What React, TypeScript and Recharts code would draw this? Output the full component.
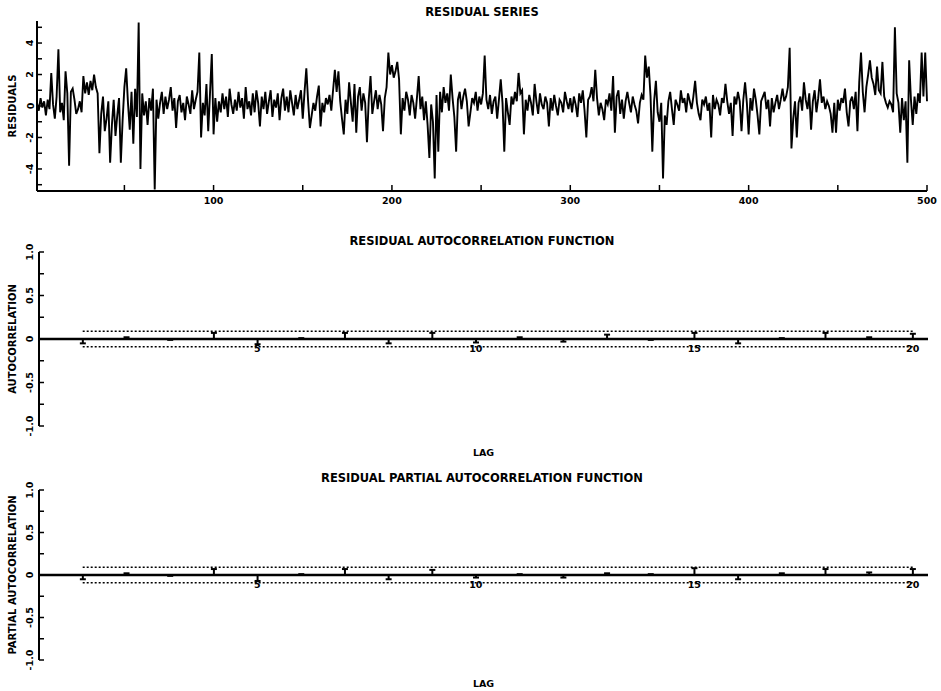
import { ComposedChart, Line, Bar, XAxis, YAxis, ReferenceLine, ReferenceDot } from 'recharts';

// residual series, observations 1..500
const residuals: number[] = [
  0.2, -0.3, 0.5, -0.1, 0.3, -0.6, 0.4, -0.2, 2.1, 0.1, -0.8, 0.6, 3.6, -0.4, 0.2, -0.9, 2.2, 0.8, -3.8, 0.9,
  1.1, 0.4, -0.5, -0.2, 0.3, -0.4, 1.9, 0.8, 1.5, 0.7, 1.6, 1.0, 2.0, 1.2, 0.8, -3.0, -0.5, 0.6, -1.6, -0.8,
  0.3, -3.6, -1.2, 0.4, -1.9, -0.6, 0.5, -3.6, -0.9, 1.2, 2.4, 0.2, -1.5, 0.9, -2.4, 1.1, -0.7, 5.3, -4.0, 0.8,
  -0.6, 0.3, -1.2, 0.5, -0.3, 1.1, -5.3, 0.4, -0.8, 0.2, 0.9, -0.5, 0.6, -0.2, 0.4, 1.2, -0.3, 0.5, -1.4, 0.3,
  0.7, -0.4, 0.2, -0.9, 0.6, 0.1, -0.5, 1.0, -0.2, 0.4, 0.9, 3.4, -2.0, 0.2, -0.6, 1.4, -1.6, 0.8, 3.3, -1.8,
  0.5, -1.0, 0.3, -0.4, 0.8, -0.2, 0.6, -0.7, 1.1, 0.1, -0.5, 0.4, -0.3, 0.9, -0.1, 0.5, -0.8, 1.2, -0.2, 0.3,
  -0.6, 0.8, -0.4, 1.0, 0.2, -1.3, 0.6, -0.2, 0.9, -0.5, 0.3, 1.0, -0.7, 0.4, -0.1, 0.8, -0.9, 0.5, 1.1, -0.3,
  0.6, -0.4, 1.0, 0.2, -0.6, 0.7, -0.2, 0.4, 1.0, -0.8, 0.9, 2.4, 0.3, -1.4, -0.6, 0.2, -0.3, 0.6, 1.3, -1.3,
  0.2, -0.4, 0.5, 0.1, 0.7, -0.3, 1.0, 2.3, 0.9, 2.2, 0.3, -0.8, -1.8, 0.4, -0.5, 1.5, 0.2, -1.0, 1.4, -1.7,
  0.6, 1.2, -0.3, 0.8, 0.2, -2.3, 0.4, 1.9, -0.5, 0.3, 1.0, -0.2, 0.7, 0.1, -1.6, 0.5, 1.2, 3.4, 2.0, 2.6,
  1.8, 2.2, 2.8, 1.7, -1.8, 0.5, -0.3, 0.9, 0.4, -0.6, 0.7, 0.2, -0.8, 0.5, 1.9, -0.2, 0.6, -0.9, 0.3, -1.2,
  -3.3, 0.1, -1.0, -4.6, 0.7, -2.9, 0.9, -0.4, 1.2, 0.2, 0.8, -0.3, 2.0, 0.5, -0.7, -2.9, 0.4, 0.9, -0.2, 0.6,
  1.1, 0.3, -1.3, -0.4, 0.5, 0.2, 0.9, -0.3, 0.6, 0.1, 0.8, 3.2, 0.4, -0.2, 0.7, -0.5, 0.3, 0.6, -0.8, 0.4,
  1.7, 0.2, -2.9, 0.5, -0.4, -1.2, 0.6, 0.1, 0.9, 0.3, 2.1, 0.8, 1.0, -1.8, 0.4, -0.3, 0.7, 0.2, -0.6, 1.4,
  0.3, -0.5, 0.8, 0.1, -0.2, 0.6, 0.2, -1.3, 0.5, -0.3, 0.7, 0.0, -0.6, 0.4, 0.2, -0.4, 0.9, 0.3, -0.2, 0.5,
  -0.4, 0.6, 0.1, -0.7, 0.8, 0.2, 1.0, -0.3, -2.0, 0.4, 0.6, 1.2, 0.3, 2.3, 0.5, -0.6, 0.2, -0.2, -0.9, 0.4,
  0.1, 0.8, -0.3, 1.9, -1.7, 0.6, 1.0, -0.5, 0.4, -0.8, 0.3, 0.9, 0.2, -0.4, 0.6, 0.1, -0.3, -1.1, 0.2, 0.7,
  0.4, 3.2, 1.8, 2.5, 0.6, -2.9, 0.3, 1.6, -0.4, -1.0, 0.2, -4.6, -0.6, -1.2, 0.3, 0.9, -0.2, -1.2, 0.4, 0.1,
  -0.3, 1.0, 0.2, 0.5, -0.4, 0.8, 0.3, -0.2, 0.6, 1.6, 0.2, -0.5, -0.9, 0.4, 0.1, 0.6, -0.3, 0.2, -2.0, 0.7,
  -0.2, 0.4, 0.1, -0.6, 0.5, 0.2, 1.4, 0.3, -0.5, 0.2, -1.9, 0.6, 0.1, 0.9, 0.3, -1.6, 0.4, 1.5, 0.2, -1.8,
  0.5, -0.3, 1.1, 0.4, -0.6, -1.8, 0.3, 0.6, 0.9, -0.2, 0.4, -1.3, 0.5, -0.4, 0.2, 0.7, -0.2, 0.4, 1.1, 0.3,
  0.6, 1.2, 3.7, -2.7, -0.8, 0.3, -2.0, 0.2, 0.6, -0.3, 1.5, 0.4, -0.2, 0.8, -1.5, 0.3, 1.0, -0.4, 0.5, 1.7,
  0.2, 0.6, -0.2, 0.3, 0.0, -0.5, -1.7, 0.2, -1.7, 0.4, -0.3, 0.5, 0.2, 1.1, -0.4, -1.3, 0.3, 0.6, -0.2, 0.9,
  -1.6, 1.5, 3.4, 0.9, -0.4, 1.2, 2.0, 2.9, 1.8, 1.4, 0.7, 2.5, 1.0, 0.8, 2.8, 0.6, 0.2, -0.1, 0.3, 0.1,
  -0.4, 5.0, 0.8, 0.2, -1.7, 0.5, -0.9, 0.3, -3.6, 2.9, 0.4, -1.2, 0.6, -0.5, 0.8, 0.2, 3.4, 0.6, 3.4, 0.3,
];

const seriesTicks = [50, 100, 150, 200, 250, 300, 350, 400, 450, 500];
const seriesLabels = [100, 200, 300, 400, 500];
const residualTicks = [-5, -4, -3, -2, -1, 0, 1, 2, 3, 4, 5];
const residualLabels = [-4, -2, 0, 2, 4];

const lags = [1, 2, 3, 4, 5, 6, 7, 8, 9, 10, 11, 12, 13, 14, 15, 16, 17, 18, 19, 20];
const acfValues = [-0.05, 0.02, -0.01, 0.07, -0.06, 0.01, 0.07, -0.05, 0.07, -0.04, 0.02, -0.03, 0.05, -0.01, 0.07, -0.05, 0.01, 0.07, 0.02, 0.06];
const pacfValues = [-0.05, 0.02, -0.01, 0.07, -0.07, 0.01, 0.07, -0.05, 0.06, -0.03, 0.01, -0.03, 0.02, 0.01, 0.08, -0.05, 0.02, 0.07, 0.03, 0.07];
const lagLabels = [5, 10, 15, 20];
const corrTicks = [-1, -0.75, -0.5, -0.25, 0, 0.25, 0.5, 0.75, 1];
const corrLabels = [-1, -0.5, 0, 0.5, 1];
const bound = 0.09; // approx 2/sqrt(n)

const FONT = '"DejaVu Sans", sans-serif';
const INK = '#000';

const residualData = residuals.map((r, i) => ({ t: i + 1, r }));

const fmtCorr = (v: number) => (v === 0 ? '0' : v.toFixed(1));

function Title({ top, text }: { top: number; text: string }) {
  return (
    <div
      style={{
        position: 'absolute', left: 37, width: 890, top, textAlign: 'center',
        fontFamily: FONT, fontWeight: 'bold', fontSize: 11.5, lineHeight: '14px',
        color: INK, whiteSpace: 'nowrap',
      }}
    >
      {text}
    </div>
  );
}

// ticks point into the plot, labels are turned on their side
function LeftTick(props: any, labels: number[], fmt: (v: number) => string, gap: number) {
  const { x, y, payload } = props;
  const v = payload.value;
  const show = labels.some((l) => Math.abs(l - v) < 1e-9);
  return (
    <g>
      <line x1={x} x2={x + 5} y1={y} y2={y} stroke={INK} strokeWidth={1.5} />
      {show && (
        <text
          x={x - gap} y={y} transform={`rotate(-90 ${x - gap} ${y})`}
          textAnchor="middle" dominantBaseline="central"
          fontFamily={FONT} fontWeight="bold" fontSize={9.5} fill={INK}
        >
          {fmt(v)}
        </text>
      )}
    </g>
  );
}

function BottomTick(props: any) {
  const { x, y, payload } = props;
  const v = payload.value;
  return (
    <g>
      <line x1={x} x2={x} y1={y} y2={y - 6} stroke={INK} strokeWidth={1.5} />
      {seriesLabels.includes(v) && (
        <text x={x} y={y + 13} textAnchor="middle" fontFamily={FONT} fontWeight="bold" fontSize={9.5} fill={INK}>
          {v}
        </text>
      )}
    </g>
  );
}

// vertical spike with a short cap at the value end
function Stem(props: any) {
  const { x, y, width, height, payload } = props;
  const cx = x + width / 2;
  const top = Math.min(y, y + height);
  const bottom = Math.max(y, y + height);
  const end = payload.v >= 0 ? top : bottom;
  return (
    <g>
      <line x1={cx} x2={cx} y1={top} y2={bottom} stroke={INK} strokeWidth={2} />
      <line x1={cx - 3} x2={cx + 3} y1={end} y2={end} stroke={INK} strokeWidth={2} />
    </g>
  );
}

function CorrPanel({
  values, yLabel, marginTop, height, xAxisHeight,
}: { values: number[]; yLabel: string; marginTop: number; height: number; xAxisHeight: number }) {
  const data = lags.map((lag, i) => ({ lag, v: values[i] }));
  return (
    <ComposedChart
      width={941} height={height} data={data}
      margin={{ top: marginTop, right: 13, left: 0, bottom: 4 }}
    >
      <XAxis
        dataKey="lag" type="number" domain={[0, 20.35]} allowDataOverflow
        axisLine={false} tickLine={false} tick={false} height={xAxisHeight}
        label={{ value: 'LAG', position: 'insideBottom', offset: 0, fontFamily: FONT, fontWeight: 'bold', fontSize: 9.5, fill: INK }}
      />
      <YAxis
        type="number" domain={[-1, 1]} ticks={corrTicks} interval={0} width={39}
        tickSize={0} tickMargin={0} tickLine={false}
        axisLine={{ stroke: INK, strokeWidth: 2 }}
        tick={(p: any) => LeftTick(p, corrLabels, fmtCorr, 10)}
        label={{
          value: yLabel, angle: -90, position: 'insideLeft', offset: 12,
          style: { textAnchor: 'middle', fontFamily: FONT, fontWeight: 'bold', fontSize: 10, fill: INK },
        }}
      />
      <ReferenceLine y={0} stroke={INK} strokeWidth={2.5} />
      <ReferenceLine segment={[{ x: 1, y: bound }, { x: 20, y: bound }]} stroke={INK} strokeWidth={1.5} strokeDasharray="2 2" />
      <ReferenceLine segment={[{ x: 1, y: -bound }, { x: 20, y: -bound }]} stroke={INK} strokeWidth={1.5} strokeDasharray="2 2" />
      <Bar dataKey="v" barSize={4} shape={Stem} isAnimationActive={false} />
      {lagLabels.map((l) => (
        <ReferenceDot
          key={l} x={l} y={0} r={0} fill="none" stroke="none"
          label={{ value: String(l), position: 'bottom', offset: 6, fontFamily: FONT, fontWeight: 'bold', fontSize: 9.5, fill: INK }}
        />
      ))}
    </ComposedChart>
  );
}

export default function App() {
  return (
    <div style={{ position: 'absolute', left: 0, top: 0, width: 941, height: 691, background: '#fff' }}>
      <Title top={5} text="RESIDUAL SERIES" />
      <div style={{ position: 'absolute', left: 0, top: 0 }}>
        <ComposedChart width={941} height={215} data={residualData} margin={{ top: 21, right: 14, left: 0, bottom: 4 }}>
          <XAxis
            dataKey="t" type="number" domain={[1, 500]} ticks={seriesTicks} interval={0}
            tickSize={0} tickMargin={0} tickLine={false} height={20}
            axisLine={{ stroke: INK, strokeWidth: 2 }} tick={BottomTick}
          />
          <YAxis
            type="number" domain={[-5.4, 5.4]} ticks={residualTicks} interval={0} width={37}
            tickSize={0} tickMargin={0} tickLine={false}
            axisLine={{ stroke: INK, strokeWidth: 2 }}
            tick={(p: any) => LeftTick(p, residualLabels, (v) => String(v), 7)}
            label={{
              value: 'RESIDUALS', angle: -90, position: 'insideLeft', offset: 12,
              style: { textAnchor: 'middle', fontFamily: FONT, fontWeight: 'bold', fontSize: 10, fill: INK },
            }}
          />
          <Line dataKey="r" type="linear" stroke={INK} strokeWidth={1.9} dot={false} isAnimationActive={false} />
        </ComposedChart>
      </div>

      <Title top={234} text="RESIDUAL AUTOCORRELATION FUNCTION" />
      <div style={{ position: 'absolute', left: 0, top: 230 }}>
        <CorrPanel values={acfValues} yLabel="AUTOCORRELATION" marginTop={22} height={230} xAxisHeight={30} />
      </div>

      <Title top={471} text="RESIDUAL PARTIAL AUTOCORRELATION FUNCTION" />
      <div style={{ position: 'absolute', left: 0, top: 460 }}>
        <CorrPanel values={pacfValues} yLabel="PARTIAL AUTOCORRELATION" marginTop={30} height={231} xAxisHeight={27} />
      </div>
    </div>
  );
}
